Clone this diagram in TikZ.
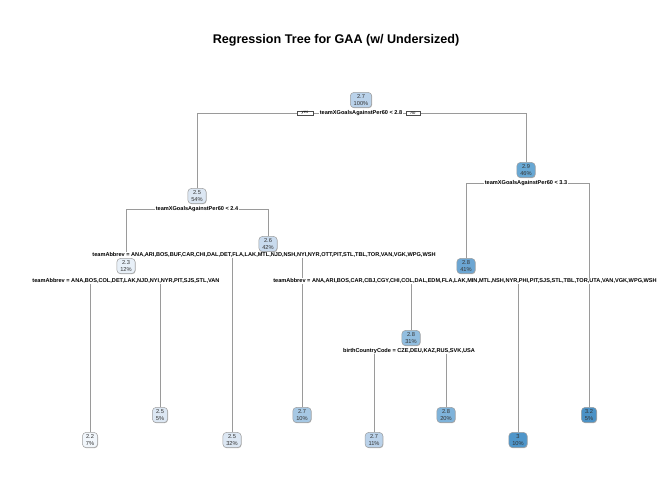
\documentclass[tikz,border=0pt]{standalone}
\usepackage{fontspec}
\setmainfont{Liberation Sans}
\usetikzlibrary{shadows}
\definecolor{c22}{HTML}{F1F6FB}
\definecolor{c23}{HTML}{E8F0F8}
\definecolor{c25}{HTML}{DCE7F3}
\definecolor{c26}{HTML}{C9DBEE}
\definecolor{c27}{HTML}{BAD2EA}
\definecolor{c27b}{HTML}{A6C8E4}
\definecolor{c28a}{HTML}{92BEE0}
\definecolor{c28b}{HTML}{7FB3DA}
\definecolor{c28c}{HTML}{6CA6D3}
\definecolor{c29}{HTML}{68A8D4}
\definecolor{c30}{HTML}{4F96CA}
\definecolor{c32}{HTML}{4B92C6}
\definecolor{edgegray}{HTML}{9A9A9A}
\tikzset{
  x=1pt, y=-1pt,
  tnode/.style={draw=gray!75, rounded corners=3.5pt, line width=0.5pt, align=center,
    font=\fontsize{5.7}{6.3}\selectfont, text=black!80, inner xsep=3.4pt, inner ysep=2.4pt,
    drop shadow={shadow xshift=0.5pt, shadow yshift=-0.6pt, fill=gray!55, opacity=1}},
  slabel/.style={fill=white, inner sep=0.6pt, font=\bfseries\fontsize{5.6}{6}\selectfont},
  yn/.style={draw=black!70, fill=white, line width=0.3pt, inner xsep=4.5pt, inner ysep=0.7pt,
    font=\itshape\fontsize{4.2}{4.4}\selectfont},
  edge/.style={draw=edgegray, line width=0.55pt},
}
\begin{document}
\begin{tikzpicture}
\useasboundingbox (0,0) rectangle (672,480);
\node[font=\bfseries\fontsize{12.6}{14}\selectfont] (title) at (336,40) {Regression Tree for GAA (w/ Undersized)};

% nodes
\node[tnode, fill=c27] (r) at (361,100) {2.7\\100\%};
\node[tnode, fill=c25] (n2) at (197,196) {2.5\\54\%};
\node[tnode, fill=c23] (n3) at (126,266) {2.3\\12\%};
\node[tnode, fill=c26] (n4) at (268,244) {2.6\\42\%};
\node[tnode, fill=c29] (n5) at (526,170) {2.9\\46\%};
\node[tnode, fill=c28c] (n6) at (466,266) {2.8\\41\%};
\node[tnode, fill=c28a] (n7) at (411,338) {2.8\\31\%};
% leaves
\node[tnode, fill=c22] (l1) at (90,440) {2.2\\7\%};
\node[tnode, fill=c25] (l2) at (160,415) {2.5\\5\%};
\node[tnode, fill=c25] (l3) at (232,440) {2.5\\32\%};
\node[tnode, fill=c27b] (l4) at (302,415) {2.7\\10\%};
\node[tnode, fill=c27] (l5) at (374,440) {2.7\\11\%};
\node[tnode, fill=c28b] (l6) at (446,415) {2.8\\20\%};
\node[tnode, fill=c30] (l7) at (518,440) {3\\10\%};
\node[tnode, fill=c32] (l8) at (589,415) {3.2\\5\%};

% split coordinates
\coordinate (rL) at (197,113); \coordinate (rR) at (526,113);
\coordinate (n2L) at (126,209); \coordinate (n2R) at (268,209);
\coordinate (n3L) at (90,281); \coordinate (n3R) at (160,281);
\coordinate (n4L) at (232,255); \coordinate (n4R) at (302,255);
\coordinate (n5L) at (466,183); \coordinate (n5R) at (589,183);
\coordinate (n6L) at (411,281); \coordinate (n6R) at (518,281);
\coordinate (n7L) at (374,351); \coordinate (n7R) at (446,351);

% connectors
\draw[edge] (n2.north) -- (rL) -- (rR) -- (n5.north);
\draw[edge] (n3.north) -- (n2L) -- (n2R) -- (n4.north);
\draw[edge] (l1.north) -- (n3L) -- (n3R) -- (l2.north);
\draw[edge] (l3.north) -- (n4L) -- (n4R) -- (l4.north);
\draw[edge] (n6.north) -- (n5L) -- (n5R) -- (l8.north);
\draw[edge] (n7.north) -- (n6L) -- (n6R) -- (l7.north);
\draw[edge] (l5.north) -- (n7L) -- (n7R) -- (l6.north);

% split labels
\node[slabel] (s1) at (361,113) {teamXGoalsAgainstPer60 < 2.8};
\node[yn] (yes) at (305,113) {yes};
\node[yn] (no) at (413,113) {no};
\node[slabel] (s2) at (197,209) {teamXGoalsAgainstPer60 < 2.4};
\node[slabel] (s3) at (126,281) {teamAbbrev = ANA,BOS,COL,DET,LAK,NJD,NYI,NYR,PIT,SJS,STL,VAN};
\node[slabel] (s4) at (264,255) {teamAbbrev = ANA,ARI,BOS,BUF,CAR,CHI,DAL,DET,FLA,LAK,MTL,NJD,NSH,NYI,NYR,OTT,PIT,STL,TBL,TOR,VAN,VGK,WPG,WSH};
\node[slabel] (s5) at (526,183) {teamXGoalsAgainstPer60 < 3.3};
\node[slabel] (s6) at (465,281) {teamAbbrev = ANA,ARI,BOS,CAR,CBJ,CGY,CHI,COL,DAL,EDM,FLA,LAK,MIN,MTL,NSH,NYR,PHI,PIT,SJS,STL,TBL,TOR,UTA,VAN,VGK,WPG,WSH};
\node[slabel] (s7) at (409,351) {birthCountryCode = CZE,DEU,KAZ,RUS,SVK,USA};
\end{tikzpicture}
\end{document}
